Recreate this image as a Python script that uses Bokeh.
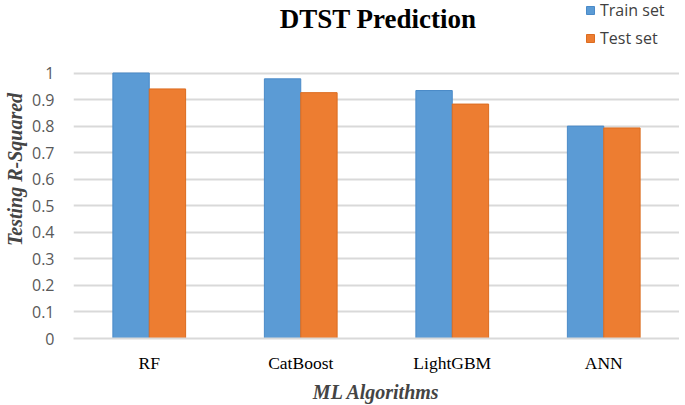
from bokeh.plotting import figure
from bokeh.models import Range1d, FactorRange, FixedTicker, Legend, LegendItem, ColumnDataSource, Label
from bokeh.transform import dodge
from bokeh.embed import file_html
from bokeh.resources import INLINE

categories = ["RF", "CatBoost", "LightGBM", "ANN"]
train_set = [1.0, 0.978, 0.934, 0.80]
test_set = [0.940, 0.926, 0.883, 0.793]
y_ticks = [0, 0.1, 0.2, 0.3, 0.4, 0.5, 0.6, 0.7, 0.8, 0.9, 1.0]

src = ColumnDataSource(dict(cat=categories, train=train_set, test=test_set))

# frame spans the full canvas height above the axis; the band above 1.0 holds title and legend
frame_h = 338
unit_px = 265.5
y_top = frame_h / unit_px
p = figure(frame_width=606, frame_height=frame_h, output_backend="svg", toolbar_location=None,
           x_range=FactorRange(*categories), y_range=Range1d(0, y_top),
           min_border_left=71, min_border_right=0, min_border_top=0, min_border_bottom=67)

bw = 0.24
r1 = p.vbar(x=dodge("cat", -bw / 2, range=p.x_range), top="train", width=bw, source=src,
            fill_color="#5B9BD5", line_color="#4A8AC8", line_width=1)
r2 = p.vbar(x=dodge("cat", bw / 2, range=p.x_range), top="test", width=bw, source=src,
            fill_color="#ED7D31", line_color="#DC6C20", line_width=1)

p.outline_line_color = None
p.xgrid.grid_line_color = None
p.ygrid.grid_line_color = "#D9D9D9"
p.ygrid.grid_line_width = 2
p.ygrid.ticker = FixedTicker(ticks=y_ticks)

p.yaxis.ticker = FixedTicker(ticks=y_ticks)
p.yaxis.major_label_overrides = {t: ("%g" % t) for t in y_ticks}
p.yaxis.axis_line_color = None
p.yaxis.major_tick_line_color = None
p.yaxis.minor_tick_line_color = None
p.yaxis.major_label_text_font = "Open Sans"
p.yaxis.major_label_text_font_size = "16px"
p.yaxis.major_label_text_color = "#595959"
p.yaxis.major_label_standoff = 13
p.yaxis.axis_label = "Testing R-Squared"
p.yaxis.axis_label_text_font = "Liberation Serif"
p.yaxis.axis_label_text_font_style = "bold italic"
p.yaxis.axis_label_text_font_size = "20px"
p.yaxis.axis_label_standoff = 3
p.yaxis.axis_label_align = "center"

p.xaxis.axis_line_color = "#D9D9D9"
p.xaxis.axis_line_width = 2
p.xaxis.major_tick_line_color = None
p.xaxis.minor_tick_line_color = None
p.xaxis.major_label_text_font = "Liberation Serif"
p.xaxis.major_label_text_font_size = "17.5px"
p.xaxis.major_label_text_color = "black"
p.xaxis.major_label_standoff = 8
p.xaxis.axis_label = "ML Algorithms"
p.xaxis.axis_label_text_font = "Liberation Serif"
p.xaxis.axis_label_text_font_style = "bold italic"
p.xaxis.axis_label_text_font_size = "20px"
p.xaxis.axis_label_standoff = 5

title = Label(x=2.01, y=1 + 54 / unit_px, text="DTST Prediction",
              text_font="Liberation Serif", text_font_style="bold", text_font_size="27px",
              text_color="black", text_align="center", text_baseline="alphabetic")
p.add_layout(title)

legend = Legend(items=[LegendItem(label="Train set", renderers=[r1]),
                       LegendItem(label="Test set", renderers=[r2])],
                location=(512, 289), orientation="vertical",
                background_fill_alpha=0, border_line_color=None,
                label_text_font="Open Sans", label_text_font_size="16px",
                label_text_color="#404040", glyph_width=10, glyph_height=10,
                spacing=6, label_standoff=5, padding=0, margin=0)
p.add_layout(legend, "center")

open("out.html", "w").write(file_html(p, INLINE))
